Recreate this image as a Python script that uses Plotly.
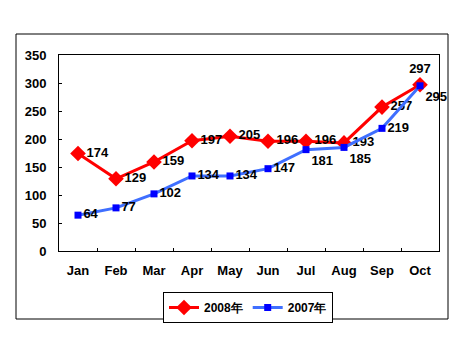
import plotly.graph_objects as go

months = ["Jan", "Feb", "Mar", "Apr", "May", "Jun", "Jul", "Aug", "Sep", "Oct"]
sales_2008 = [174, 129, 159, 197, 205, 196, 196, 193, 257, 297]
sales_2007 = [64, 77, 102, 134, 134, 147, 181, 185, 219, 295]
name_2008 = "2008年"
name_2007 = "2007年"

pos_2008 = ["middle right"] * 9 + ["top center"]
pos_2007 = ["middle right"] * 6 + ["bottom right", "bottom right", "middle right", "bottom right"]

family = "Arial, Liberation Sans, sans-serif"

fig = go.Figure()
fig.add_trace(go.Scatter(
    x=months, y=sales_2008, name=name_2008, mode="lines+markers+text",
    line=dict(color="#FF0000", width=3),
    marker=dict(symbol="diamond", size=12, color="#FF0000"),
    text=[str(v) for v in sales_2008], textposition=pos_2008,
    textfont=dict(family=family, size=13, color="black", weight="bold"),
    cliponaxis=False,
))
fig.add_trace(go.Scatter(
    x=months, y=sales_2007, name=name_2007, mode="lines+markers+text",
    line=dict(color="#3F6FFF", width=3),
    marker=dict(symbol="square", size=7, color="#0000FF"),
    text=[str(v) for v in sales_2007], textposition=pos_2007,
    textfont=dict(family=family, size=13, color="black", weight="bold"),
    cliponaxis=False,
))

L, R, T, B = 59, 439, 55, 251
W, H = 467, 350
pw, ph = R - L, B - T

def px(x):
    return (x - L) / pw

def py(y):
    return (B - y) / ph

fig.update_layout(
    width=W, height=H,
    margin=dict(l=L, r=W - R, t=T, b=H - B, pad=0),
    paper_bgcolor="white", plot_bgcolor="white",
    font=dict(family=family, size=12, color="black", weight="bold"),
    showlegend=True,
    legend=dict(
        orientation="h", xanchor="center", yanchor="top",
        x=px(248), y=py(292),
        bordercolor="black", borderwidth=1, bgcolor="white",
        font=dict(size=12, weight="bold"),
        itemwidth=30, tracegroupgap=0,
    ),
    xaxis=dict(
        range=[-0.5, 9.5], showgrid=False, showline=True, linecolor="black",
        linewidth=1, mirror=True, ticks="inside", ticklen=3, tickcolor="black",
        tickson="boundaries", ticklabelstandoff=7,
        tickfont=dict(size=13, weight="bold"),
    ),
    yaxis=dict(
        range=[0, 350], dtick=50, showgrid=False, showline=True, linecolor="black",
        linewidth=1, mirror=True, ticks="inside", ticklen=3, tickcolor="black",
        ticklabelstandoff=9, zeroline=False,
        tickfont=dict(size=13, weight="bold"),
    ),
    shapes=[dict(
        type="rect", xref="paper", yref="paper",
        x0=px(16), x1=px(448), y0=py(319), y1=py(34),
        line=dict(color="black", width=1), fillcolor="rgba(0,0,0,0)", layer="below",
    )],
)

fig.write_html("out.html")
